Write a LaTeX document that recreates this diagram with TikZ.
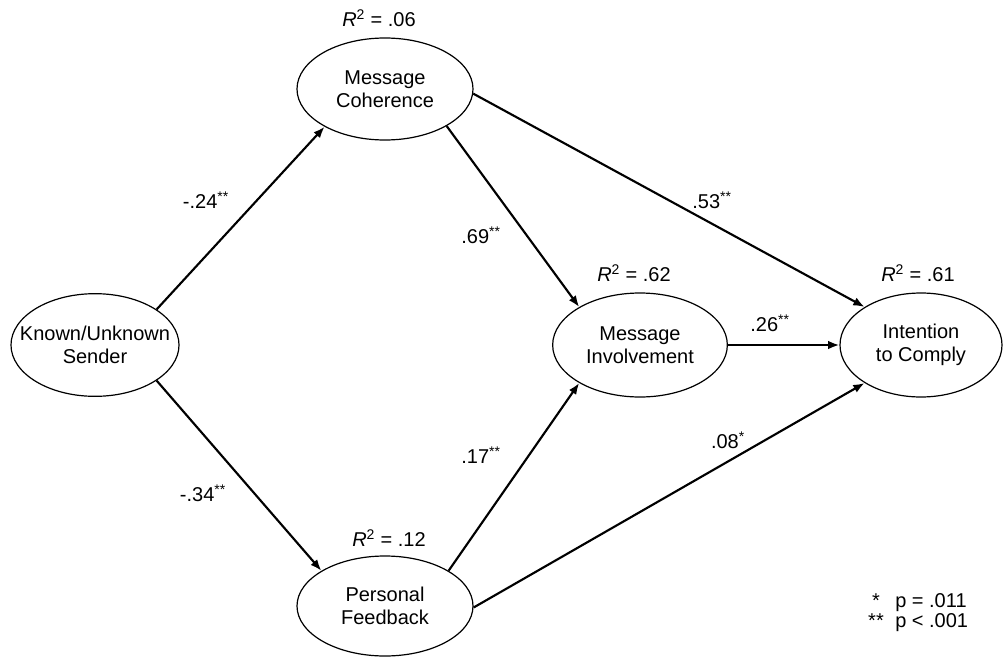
\documentclass[tikz,border=0pt]{standalone}
\usepackage{fontspec}
\setmainfont{Liberation Sans}
\usetikzlibrary{arrows.meta,shapes.geometric}
\begin{document}
\begin{tikzpicture}[x=0.75pt,y=-0.75pt,
  lbl/.style={inner sep=0pt,font=\fontsize{15}{17.5}\selectfont},
  latent/.style={ellipse,draw,line width=0.9pt,inner sep=0pt},
  pathar/.style={line width=1.6pt,-{Latex[length=8.5pt,width=6.5pt]}}]
\useasboundingbox (0,0) rectangle (1003,657);
% latent variables
\node[latent,minimum width=126pt,minimum height=77pt,
  label={[lbl,align=center]center:Known/Unknown\\Sender}] (ks) at (95,345) {};
\node[latent,minimum width=132pt,minimum height=76.5pt,
  label={[lbl,align=center]center:Message\\Coherence}] (mc) at (385,89) {};
\node[latent,minimum width=132pt,minimum height=75pt,
  label={[lbl,align=center]center:Personal\\Feedback}] (pf) at (385,606) {};
\node[latent,minimum width=131pt,minimum height=78pt,
  label={[lbl,align=center]center:Message\\Involvement}] (mi) at (640,345) {};
\node[latent,minimum width=121.5pt,minimum height=78pt,
  label={[lbl,align=center]center:Intention\\to Comply}] (ic) at (921,345) {};
% R squared labels
\node[lbl] (r1) at (379,18) {\textit{R}\textsuperscript{2} = .06};
\node[lbl] (r2) at (389,538) {\textit{R}\textsuperscript{2} = .12};
\node[lbl] (r3) at (634,273) {\textit{R}\textsuperscript{2} = .62};
\node[lbl] (r4) at (918,273) {\textit{R}\textsuperscript{2} = .61};
% paths
\draw[pathar] (ks.30) -- (mc.212);
\draw[pathar] (ks.-30) -- (pf.151);
\draw[pathar] (mc.-31) -- (mi.148);
\draw[pathar] (pf.29) -- (mi.212);
\draw[pathar] (mc.-3) -- (ic.146);
\draw[pathar] (mi.east) -- (ic.west);
\draw[pathar] (pf.-1) -- (ic.214);
% coefficients
\node[lbl] (c1) at (206,200) {-.24\textsuperscript{**}};
\node[lbl] (c2) at (203,493) {-.34\textsuperscript{**}};
\node[lbl] (c3) at (481,235) {.69\textsuperscript{**}};
\node[lbl] (c4) at (481,455) {.17\textsuperscript{**}};
\node[lbl] (c5) at (712,200) {.53\textsuperscript{**}};
\node[lbl] (c6) at (770,323) {.26\textsuperscript{**}};
\node[lbl] (c7) at (728,440) {.08\textsuperscript{*}};
% legend
\node[lbl] (s1) at (876,601) {*};
\node[lbl,anchor=west] (p1) at (895,603) {p = .011};
\node[lbl] (s2) at (876,621) {**};
\node[lbl,anchor=west] (p2) at (895,623) {p < .001};
\end{tikzpicture}
\end{document}
